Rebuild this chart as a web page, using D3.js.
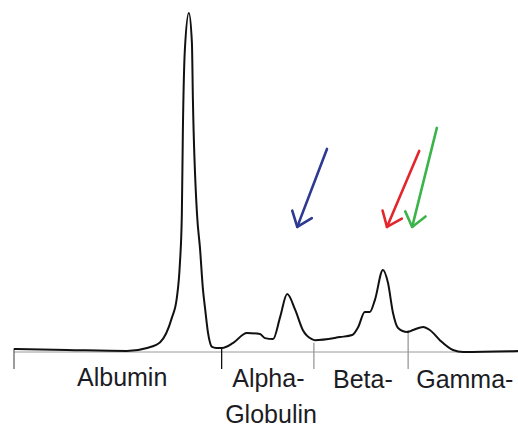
<!DOCTYPE html>
<html><head><meta charset="utf-8">
<script src="https://cdn.jsdelivr.net/npm/d3@7"></script>
<style>html,body{margin:0;padding:0;background:#fff;}svg{display:block;}</style>
</head><body>
<script>
// Migration distance (0-100) and absorbance (0-100, peak = 100)
const position = [0,10.5,22.4,26.4,29.0,31.3,32.3,32.9,33.3,33.5,33.9,34.7,35.3,35.5,36.3,36.9,37.5,37.9,38.5,39.3,40.1,41.3,43.5,46.2,48.8,49.8,51.4,52.8,54.2,55.8,57.3,59.1,59.7,64.7,67.1,68.3,69.6,70.6,71.6,73.2,74.2,75.2,76.2,78.0,79.2,81.2,82.5,84.5,87.1,89.1,100];
const absorbance = [0.9,0.6,0.3,1.2,2.9,10.0,15.9,25.7,40.4,64.6,89.1,100,91.2,74.3,41,30.7,18.3,13,5.6,1.5,1.2,1.2,2.7,5.6,5.3,4.1,3.8,10.3,17.1,12.4,6.5,3.8,3.5,4.4,5.0,7.4,11.8,11.8,15.3,24.2,20.4,11.5,7.1,5.9,6.5,7.4,6.5,3.5,0.6,0,0.3];

const fractionBounds = [0, 41.2, 59.5, 78.2];
const boundTop = [1.0, 1.2, 2.7, 6.5];
const boundColor = ["#666", "#111", "#999", "#999"];

const labelLines = [["Albumin"],["Alpha-","Globulin"],["Beta-"],["Gamma-"]];
const labelStart = [[12.5],[43.3,41.9],[63.3],[79.8]];

// arrows: tail (position, absorbance) -> tip
const arrowColors = ["#2e3a92", "#e3262b", "#3bb54a"];
const arrowTail = [[62.1,59.9],[80.4,59.3],[83.9,66.1]];
const arrowTip = [[56.2,36.9],[74.0,36.9],[79.0,36.9]];

const W = 518, H = 429;
const svg = d3.select("body").append("svg").attr("width", W).attr("height", H);
const x = d3.scaleLinear().domain([0,100]).range([14,518]);
const y = d3.scaleLinear().domain([0,100]).range([352,13]);

// baseline
svg.append("line").attr("x1", x(0)).attr("x2", x(100)).attr("y1", y(0)).attr("y2", y(0))
  .attr("stroke", "#9a9a9a").attr("stroke-width", 1);

// fraction boundary ticks
svg.selectAll("line.tick").data(fractionBounds).enter().append("line").attr("class","tick")
  .attr("x1", d => x(d)).attr("x2", d => x(d))
  .attr("y1", (d,i) => y(boundTop[i])).attr("y2", y(0) + 17)
  .attr("stroke", (d,i) => boundColor[i]).attr("stroke-width", 1.3);

// densitometry curve
const pts = position.map((p,i) => [p, absorbance[i]]);
svg.append("path").datum(pts)
  .attr("d", d3.line().x(d => x(d[0])).y(d => y(d[1])).curve(d3.curveMonotoneX))
  .attr("fill", "none").attr("stroke", "#111").attr("stroke-width", 2)
  .attr("stroke-linejoin", "round");

// labels
const baselines = [[386],[387,423],[388],[388]];
labelLines.forEach((lines, i) => {
  lines.forEach((t, j) => {
    svg.append("text").attr("x", x(labelStart[i][j])).attr("y", baselines[i][j])
      .attr("font-family", "Liberation Sans, Arial, sans-serif").attr("font-size", 25)
      .attr("fill", "#1c1c24").text(t);
  });
});

// arrows
arrowColors.forEach((c, i) => {
  const x0 = x(arrowTail[i][0]), y0 = y(arrowTail[i][1]);
  const x1 = x(arrowTip[i][0]), y1 = y(arrowTip[i][1]);
  const ang = Math.atan2(y0 - y1, x0 - x1);
  const L = 17, spread = 38 * Math.PI / 180;
  const a1 = [x1 + L*Math.cos(ang - spread), y1 + L*Math.sin(ang - spread)];
  const a2 = [x1 + L*Math.cos(ang + spread), y1 + L*Math.sin(ang + spread)];
  const g = svg.append("g").attr("stroke", c).attr("stroke-width", 2.6)
    .attr("fill", "none").attr("stroke-linecap", "round").attr("stroke-linejoin", "round");
  g.append("line").attr("x1", x0).attr("y1", y0).attr("x2", x1).attr("y2", y1);
  g.append("path").attr("d", `M${a1[0]},${a1[1]}L${x1},${y1}L${a2[0]},${a2[1]}`);
});
</script>
</body></html>
